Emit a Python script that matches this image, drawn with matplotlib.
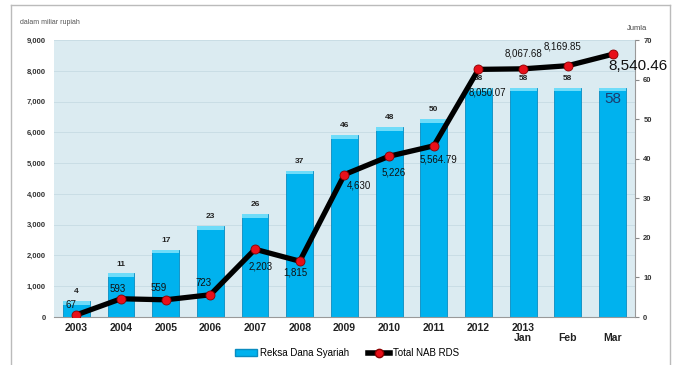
import numpy as np
import matplotlib
matplotlib.use('Agg')
import matplotlib.pyplot as plt
from matplotlib.lines import Line2D
from matplotlib.patches import Patch

plt.rcParams['font.family'] = ['Liberation Sans', 'DejaVu Sans']

# data
periods = ['2003', '2004', '2005', '2006', '2007', '2008', '2009', '2010',
           '2011', '2012', '2013\nJan', '\nFeb', '\nMar']
jumlah_rds = [4, 11, 17, 23, 26, 37, 46, 48, 50, 58, 58, 58, 58]
nab_rds = [67, 593, 559, 723, 2203, 1815, 4630, 5226, 5564.79,
           8050.07, 8067.68, 8169.85, 8540.46]
nab_labels = ['67', '593', '559', '723', '2,203', '1,815', '4,630', '5,226',
              '5,564.79', '8,050.07', '8,067.68', '8,169.85', '8,540.46']

# label offsets in pixels (dx, dy)
nab_off = [(-5, 10), (-3, 10), (-7, 12), (-7, 12), (6, -17), (-4, -11),
           (15, -11), (5, -16), (5, -14), (9, -23), (0, 15), (-5, 19), (25, -12)]

x = np.arange(len(periods))

fig = plt.figure(figsize=(6.74, 3.65), dpi=100)
ax = fig.add_axes([0.080, 0.1315, 0.862, 0.7585])
ax2 = ax.twinx()
ax.set_facecolor('#dbebf1')

# bars (count) on the right axis
for yv in range(1000, 9001, 1000):
    ax.axhline(yv / 9000 * 70, color='#c9dde5', linewidth=0.7, zorder=1)
ax.bar(x, jumlah_rds, width=0.6, color='#00b2ee', edgecolor='#0a8cc0', linewidth=0.6, zorder=2)
ax.bar(x, [0.9] * len(x), bottom=np.array(jumlah_rds) - 0.9, width=0.6,
       color='#6fdcf9', linewidth=0, zorder=2)
ax.set_ylim(0, 70)
ax.set_xlim(-0.5, len(x) - 0.5)
ax.yaxis.tick_right()
ax.yaxis.set_label_position('right')
ax.set_yticks(range(0, 71, 10))
ax.tick_params(axis='y', which='both', left=False, labelleft=False, right=True, labelright=True,
               labelsize=5.5, length=3, color='#888888', pad=3)
for t in ax.get_yticklabels():
    t.set_fontweight('bold')
    t.set_color('#333333')
ax.set_xticks(x)
ax.set_xticklabels(periods, fontsize=7.5, fontweight='bold', color='#222222', linespacing=1.1)
ax.tick_params(axis='x', length=0, pad=4)
for s in ['top', 'left']:
    ax.spines[s].set_visible(False)
ax.spines['right'].set_color('#999999')
ax.spines['bottom'].set_color('#999999')

for i, v in enumerate(jumlah_rds):
    if i == len(x) - 1:
        ax.text(i, v - 1.2, str(v), ha='center', va='top', fontsize=11, color='#1b3c6e', zorder=3)
    else:
        ax.text(i, v + 1.5, str(v), ha='center', va='bottom', fontsize=6, fontweight='bold',
                color='#222222', zorder=3)

# line (NAB) on the left axis
ax2.yaxis.tick_left()
ax2.yaxis.set_label_position('left')
ax2.set_ylim(0, 9000)
ax2.set_yticks(range(0, 9001, 1000))
ax2.set_yticklabels([f'{v:,}' for v in range(0, 9001, 1000)])
ax2.tick_params(axis='y', which='both', right=False, labelright=False, left=True, labelleft=True,
                labelsize=5.5, length=0, pad=6)
for t in ax2.get_yticklabels():
    t.set_fontweight('bold')
    t.set_color('#333333')
for s in ax2.spines.values():
    s.set_visible(False)
ax2.plot(x, nab_rds, color='black', linewidth=3.8, zorder=4)
ax2.plot(x, nab_rds, linestyle='none', marker='o', markersize=6.5,
         markerfacecolor='#e8101a', markeredgecolor='#8b0000', markeredgewidth=0.6, zorder=5)

for i, (v, lab) in enumerate(zip(nab_rds, nab_labels)):
    big = i == len(x) - 1
    ax2.annotate(lab, (i, v), xytext=nab_off[i], textcoords='offset pixels',
                 ha='center', va='center', fontsize=11 if big else 7,
                 color='#111111', zorder=6)

fig.text(0.030, 0.934, 'dalam miliar rupiah', fontsize=5, color='#555555')
fig.text(0.930, 0.918, 'Jumla', fontsize=5.5, color='#444444')

handles = [Patch(facecolor='#00b2ee', edgecolor='#0a8cc0'),
           Line2D([0], [0], color='black', linewidth=4, marker='o', markersize=6,
                  markerfacecolor='#e8101a', markeredgecolor='#8b0000')]
fig.legend(handles, ['Reksa Dana Syariah', 'Total NAB RDS'], loc='lower center',
           bbox_to_anchor=(0.515, -0.005), ncol=2, frameon=False, fontsize=7,
           handlelength=2.2, handletextpad=0.3, columnspacing=2.0)

# outer frame
for xs, ys in [([0.016, 0.016], [0.0, 0.986]), ([0.994, 0.994], [0.0, 0.986]),
               ([0.016, 0.994], [0.986, 0.986])]:
    fig.add_artist(Line2D(xs, ys, color='#bbbbbb', linewidth=1))

fig.savefig('out.png', dpi=100)
